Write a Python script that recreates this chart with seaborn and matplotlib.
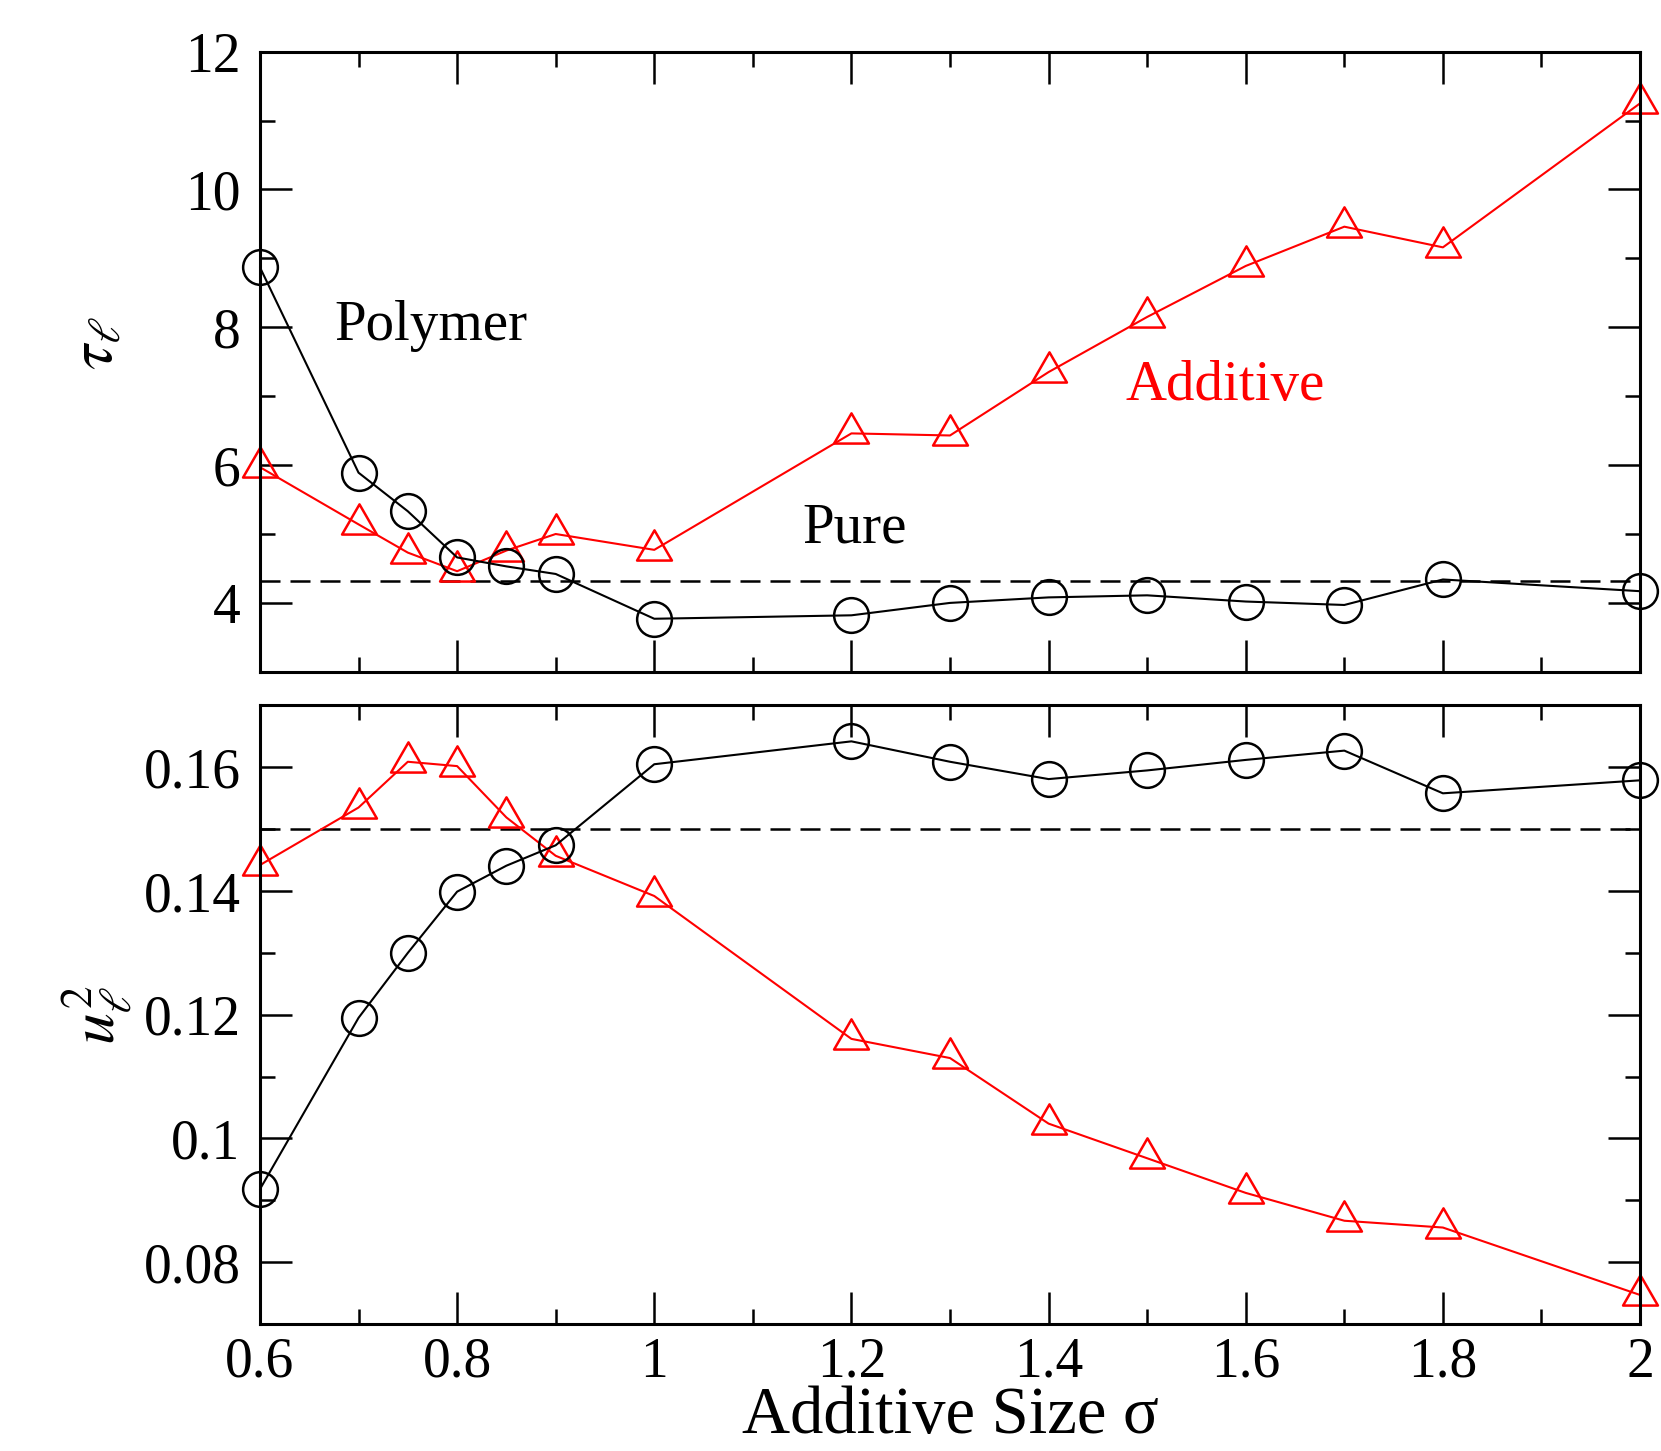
import matplotlib
matplotlib.use("Agg")
import matplotlib.pyplot as plt
from matplotlib.path import Path
import seaborn as sns
import numpy as np
import pandas as pd

# ---- data ----
sigma = [0.6, 0.7, 0.75, 0.8, 0.85, 0.9, 1.0, 1.2, 1.3, 1.4, 1.5, 1.6, 1.7, 1.8, 2.0]
tau_polymer = [8.87, 5.89, 5.33, 4.66, 4.53, 4.42, 3.77, 3.82, 4.00, 4.08, 4.11, 4.02, 3.97, 4.34, 4.17]
tau_additive = [5.97, 5.14, 4.73, 4.46, 4.76, 5.00, 4.77, 6.46, 6.43, 7.35, 8.15, 8.89, 9.46, 9.16, 11.25]
tau_pure = 4.32
u2_polymer = [0.0918, 0.1195, 0.1300, 0.1399, 0.1441, 0.1474, 0.1605, 0.1642, 0.1609, 0.1581,
              0.1595, 0.1612, 0.1627, 0.1558, 0.1579]
u2_additive = [0.1442, 0.1535, 0.1609, 0.1602, 0.1519, 0.1457, 0.1392, 0.1161, 0.1130, 0.1024,
               0.0968, 0.0912, 0.0867, 0.0856, 0.0747]
u2_pure = 0.150

xticks = [0.6, 0.8, 1.0, 1.2, 1.4, 1.6, 1.8, 2.0]
xticklabels = ["0.6", "0.8", "1", "1.2", "1.4", "1.6", "1.8", "2"]
tau_ticks = [4, 6, 8, 10, 12]
tau_ticklabels = ["4", "6", "8", "10", "12"]
u2_ticks = [0.08, 0.10, 0.12, 0.14, 0.16]
u2_ticklabels = ["0.08", "0.1", "0.12", "0.14", "0.16"]

sns.set_style("ticks")
plt.rcParams["font.family"] = ["Liberation Serif", "DejaVu Serif"]
plt.rcParams["mathtext.fontset"] = "stix"
plt.rcParams["text.color"] = "black"
plt.rcParams["xtick.color"] = "black"
plt.rcParams["ytick.color"] = "black"
plt.rcParams["axes.labelcolor"] = "black"

fig = plt.figure(figsize=(16.61, 14.51), dpi=100)
L, R = 0.1565, 0.9874
ax1 = fig.add_axes([L, 0.537, R - L, 0.9644 - 0.537])
ax2 = fig.add_axes([L, 0.0875, R - L, 0.5138 - 0.0875])

tri = Path([(-1, -0.577), (1, -0.577), (0, 1.155), (-1, -0.577)],
           [Path.MOVETO, Path.LINETO, Path.LINETO, Path.CLOSEPOLY])
df = pd.DataFrame({"sigma": sigma, "tp": tau_polymer, "ta": tau_additive,
                   "up": u2_polymer, "ua": u2_additive})

common_c = dict(marker="o", markersize=25, markerfacecolor="none", markeredgecolor="black",
                markeredgewidth=1.8, color="black", linewidth=1.5, clip_on=False, zorder=4)
common_t = dict(marker=tri, markersize=29, markerfacecolor="none", markeredgecolor="red",
                markeredgewidth=1.8, color="red", linewidth=1.5, clip_on=False, zorder=3)

for ax, yp, ya, pure in [(ax1, "tp", "ta", tau_pure), (ax2, "up", "ua", u2_pure)]:
    ax.axhline(pure, color="black", linestyle=(0, (8, 4)), linewidth=1.8, zorder=1)
    sns.lineplot(data=df, x="sigma", y=ya, ax=ax, sort=False, **common_t)
    sns.lineplot(data=df, x="sigma", y=yp, ax=ax, sort=False, **common_c)
    ax.set_xlim(0.6, 2.0)
    ax.set_xticks(xticks)
    ax.set_xticks(np.arange(0.7, 2.0, 0.2), minor=True)
    for s in ax.spines.values():
        s.set_visible(True)
        s.set_linewidth(2.2)
        s.set_color("black")
        s.set_zorder(5)
    ax.tick_params(which="both", direction="in", top=True, right=True, bottom=True, left=True,
                   width=1.8, color="black", labelcolor="black", labelsize=40, pad=14)
    ax.tick_params(which="major", length=23)
    ax.tick_params(which="minor", length=11)
    ax.set_xlabel("")
    ax.set_ylabel("")
    ax.grid(False)

ax2.tick_params(axis="x", which="both", pad=9)

ax1.set_ylim(3, 12)
ax1.set_yticks(tau_ticks)
ax1.set_yticklabels(tau_ticklabels)
ax1.set_yticks([3, 5, 7, 9, 11], minor=True)
ax1.set_xticklabels([])

ax2.set_ylim(0.07, 0.17)
ax2.set_yticks(u2_ticks)
ax2.set_yticklabels(u2_ticklabels)
ax2.set_yticks([0.07, 0.09, 0.11, 0.13, 0.15, 0.17], minor=True)
ax2.set_xticklabels(xticklabels)

ax1.text(-0.118, 0.53, r"$\tau_\ell$", transform=ax1.transAxes, rotation=90,
         fontsize=46, ha="center", va="center", color="black")
ax2.text(-0.118, 0.50, r"$u_\ell^2$", transform=ax2.transAxes, rotation=90,
         fontsize=46, ha="center", va="center", color="black")
ax2.text(0.5, -0.176, "Additive Size σ", transform=ax2.transAxes, fontsize=48,
         ha="center", va="baseline", color="black")

ax1.text(0.675, 8.02, "Polymer", fontsize=41, ha="left", va="center", color="black")
ax1.text(1.478, 7.15, "Additive", fontsize=41, ha="left", va="center", color="red")
ax1.text(1.15, 5.08, "Pure", fontsize=41, ha="left", va="center", color="black")

fig.savefig("out.png", dpi=100)
